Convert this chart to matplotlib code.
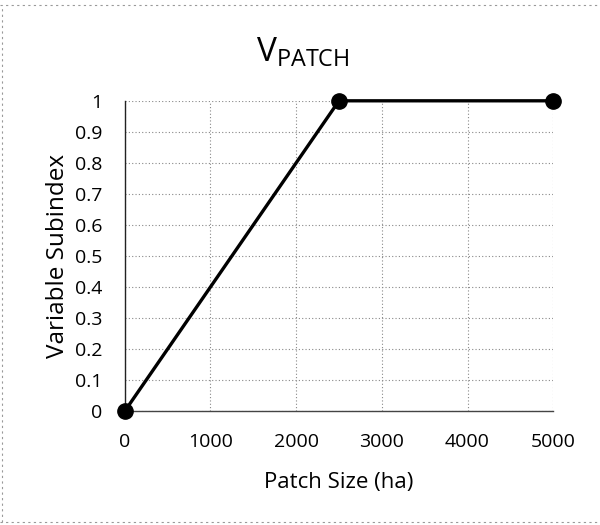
import matplotlib
matplotlib.use('Agg')
from matplotlib import pyplot as plt
from matplotlib.lines import Line2D

plt.rcParams['font.family'] = ['Open Sans', 'DejaVu Sans']
plt.rcParams['mathtext.fontset'] = 'custom'
plt.rcParams['mathtext.rm'] = 'Open Sans'

patch_size = [0, 2500, 5000]
subindex = [0, 1, 1]
x_ticks = [0, 1000, 2000, 3000, 4000, 5000]
y_ticks = [0, 0.1, 0.2, 0.3, 0.4, 0.5, 0.6, 0.7, 0.8, 0.9, 1]
y_labels = ['0', '0.1', '0.2', '0.3', '0.4', '0.5', '0.6', '0.7', '0.8', '0.9', '1']

fig = plt.figure(figsize=(6, 5.25), dpi=100)
ax = fig.add_axes([0.208, 0.217, 0.714, 0.591])

ax.plot(patch_size, subindex, '-', color='black', lw=2.4, marker='o', ms=11,
        clip_on=False, zorder=5)

ax.set_xlim(0, 5000)
ax.set_ylim(0, 1)
ax.set_xticks(x_ticks)
ax.set_yticks(y_ticks)
ax.set_yticklabels(y_labels)
ax.tick_params(length=0, labelsize=14)
ax.tick_params(axis='x', pad=16)
ax.tick_params(axis='y', pad=16)
ax.grid(True, color='#888888', ls=(0, (1, 2)), lw=0.8)
ax.set_axisbelow(True)
for s in ['top', 'right']:
    ax.spines[s].set_visible(False)
ax.spines['left'].set_color('#222222')
ax.spines['bottom'].set_color('#444444')
ax.spines['left'].set_linewidth(1.0)
ax.spines['bottom'].set_linewidth(1.0)

ax.set_xlabel('Patch Size (ha)', fontsize=16, labelpad=15)
ax.set_ylabel('Variable Subindex', fontsize=17.5, labelpad=4)
fig.text(0.505, 0.9, r'V$_{\mathregular{PATCH}}$', fontsize=24, ha='center', va='center')

# faint scanned border (top, left, bottom)
for xs, ys in [([0.0, 1.0], [0.99, 0.99]), ([0.004, 0.004], [0.005, 0.99]),
               ([0.0, 1.0], [0.006, 0.006])]:
    fig.add_artist(Line2D(xs, ys, transform=fig.transFigure, color='#999999',
                          lw=0.8, ls=(0, (2, 3))))

plt.savefig('out.png', dpi=100)
